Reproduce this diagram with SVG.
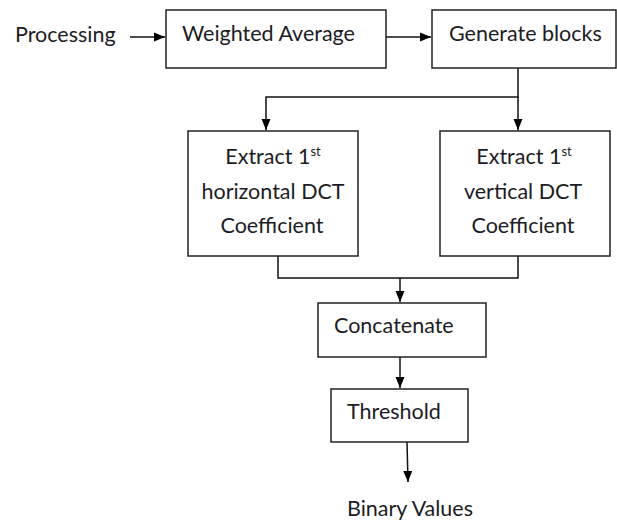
<svg xmlns="http://www.w3.org/2000/svg" width="617" height="520" viewBox="0 0 617 520">
<defs>
<style>
.box{fill:#fff;stroke:#222;stroke-width:1.5}
.ln{fill:none;stroke:#111;stroke-width:1.5}
.t{font-family:Lato,"Open Sans",sans-serif;font-size:21.5px;fill:#1c1c24}
.sup{font-size:13px}
</style>
<marker id="ah" markerWidth="11" markerHeight="11" viewBox="0 0 11 11" refX="11" refY="5.5" orient="auto" markerUnits="userSpaceOnUse">
<path d="M0,1 L11,5.5 L0,10 Z" fill="#000"/>
</marker>
</defs>
<rect width="617" height="520" fill="#fff"/>
<g id="connectors">
<line class="ln" x1="130" y1="37" x2="165" y2="37" marker-end="url(#ah)"/>
<line class="ln" x1="386" y1="37" x2="431" y2="37" marker-end="url(#ah)"/>
<polyline class="ln" points="518,68 518,97 266,97 266,130" marker-end="url(#ah)"/>
<line class="ln" x1="518" y1="97" x2="518" y2="130" marker-end="url(#ah)"/>
<polyline class="ln" points="278,256 278,278 518,278 518,256"/>
<line class="ln" x1="400" y1="278" x2="400" y2="302" marker-end="url(#ah)"/>
<line class="ln" x1="400" y1="357" x2="400" y2="388" marker-end="url(#ah)"/>
<line class="ln" x1="407" y1="442" x2="408" y2="482" marker-end="url(#ah)"/>
</g>
<g id="processing"><text class="t" x="15" y="42">Processing</text></g>
<g id="weighted-average">
<rect class="box" x="166" y="10" width="220" height="58"/>
<text class="t" x="182" y="41">Weighted Average</text>
</g>
<g id="generate-blocks">
<rect class="box" x="432" y="10" width="184" height="58"/>
<text class="t" x="449" y="41">Generate blocks</text>
</g>
<g id="extract-horizontal">
<rect class="box" x="188" y="131" width="170" height="125"/>
<text class="t" x="273" y="164" text-anchor="middle">Extract 1<tspan class="sup" dy="-8">st</tspan></text>
<text class="t" x="273" y="199" text-anchor="middle">horizontal DCT</text>
<text class="t" x="272" y="233" text-anchor="middle">Coefficient</text>
</g>
<g id="extract-vertical">
<rect class="box" x="440" y="131" width="170" height="125"/>
<text class="t" x="524" y="164" text-anchor="middle">Extract 1<tspan class="sup" dy="-8">st</tspan></text>
<text class="t" x="523" y="199" text-anchor="middle">vertical DCT</text>
<text class="t" x="523" y="233" text-anchor="middle">Coefficient</text>
</g>
<g id="concatenate">
<rect class="box" x="318" y="303" width="168" height="54"/>
<text class="t" x="334" y="333">Concatenate</text>
</g>
<g id="threshold">
<rect class="box" x="331" y="389" width="137" height="53"/>
<text class="t" x="347" y="419">Threshold</text>
</g>
<g id="binary-values"><text class="t" x="347" y="516">Binary Values</text></g>
</svg>
